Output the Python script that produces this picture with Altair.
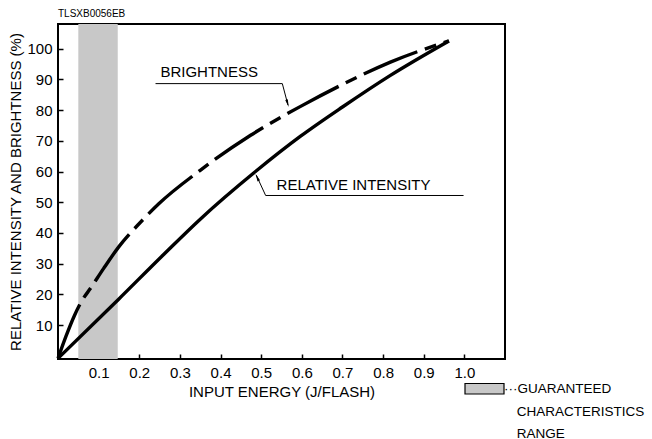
import altair as alt
import pandas as pd

# ---- data ----
x_intensity = [0, 0.148, 0.26, 0.35, 0.486, 0.597, 0.70, 0.818, 0.962]
y_intensity = [-0.8, 18.3, 33, 44.5, 60, 71.5, 81, 91.3, 102.5]

x_brightness = [0, 0.02, 0.04, 0.059, 0.08, 0.112, 0.149, 0.203, 0.248, 0.35, 0.474, 0.597, 0.695, 0.818, 0.962]
y_brightness = [-0.8, 6.5, 13, 18, 22, 28.4, 35.4, 43.5, 49.5, 60.4, 71.8, 81.2, 88.0, 95.6, 102.5]

band_start = [0.05]
band_end = [0.147]

x_ticks = [0.1, 0.2, 0.3, 0.4, 0.5, 0.6, 0.7, 0.8, 0.9, 1.0]
y_ticks = [10, 20, 30, 40, 50, 60, 70, 80, 90, 100]

FONT = "Liberation Sans"
GRAY = "#c8c8c8"

xs = alt.Scale(domain=[0, 1.1], nice=False, zero=False)
ys = alt.Scale(domain=[-1, 108], nice=False, zero=False)
x_axis = alt.Axis(values=x_ticks, format=".1f", title="INPUT ENERGY (J/FLASH)",
                  offset=-5, tickSize=5, labelPadding=6, titlePadding=4)
y_axis = alt.Axis(values=y_ticks, title="RELATIVE INTENSITY AND BRIGHTNESS (%)",
                  offset=-5, tickSize=5, labelPadding=6, titlePadding=3)


def X(field="x"):
    return alt.X(f"{field}:Q", scale=xs, axis=x_axis)


def Y(field="y"):
    return alt.Y(f"{field}:Q", scale=ys, axis=y_axis)


band_df = pd.DataFrame({"x": band_start, "x2": band_end, "y": [-1], "y2": [108]})
band = alt.Chart(band_df).mark_rect(color=GRAY).encode(
    x=X(), x2="x2:Q", y=Y(), y2="y2:Q")

int_df = pd.DataFrame({"x": x_intensity, "y": y_intensity})
bri_df = pd.DataFrame({"x": x_brightness, "y": y_brightness})

line_int = alt.Chart(int_df).mark_line(color="black", strokeWidth=3.4, interpolate="monotone",
                                       strokeCap="butt").encode(x=X(), y=Y())
line_bri = alt.Chart(bri_df).mark_line(color="black", strokeWidth=3.4, interpolate="monotone",
                                       strokeCap="butt", strokeDash=[58, 8, 12, 8]).encode(x=X(), y=Y())

# annotation leader lines (data coordinates)
lead_df = pd.DataFrame({
    "x": [0.240, 0.552, 0.511, 0.511],
    "y": [88.6, 88.6, 52.2, 52.2],
    "x2": [0.552, 0.566, 0.998, 0.488],
    "y2": [88.6, 81.6, 52.2, 58.8],
})
leaders = alt.Chart(lead_df).mark_rule(color="black", strokeWidth=1).encode(
    x=X(), y=Y(), x2="x2:Q", y2="y2:Q")

arrow_df = pd.DataFrame({"x": [0.565, 0.490], "y": [82.2, 58.1], "a": [164, 335]})
arrows = alt.Chart(arrow_df).mark_point(
    shape="M0,-1L0.35,1L-0.35,1Z", filled=True, color="black", size=60, opacity=1
).encode(x=X(), y=Y(), angle=alt.Angle("a:Q", scale=None))

label_df = pd.DataFrame({"x": [0.252, 0.538], "y": [92.4, 55.5],
                         "t": ["BRIGHTNESS", "RELATIVE INTENSITY"]})
labels = alt.Chart(label_df).mark_text(font=FONT, fontSize=15, align="left", baseline="middle",
                                       color="black").encode(x=X(), y=Y(), text="t:N")

# legend-like key below the plot (pixel positions relative to plot area)
one = pd.DataFrame({"k": [0]})
key_rect = alt.Chart(one).mark_rect(fill=GRAY, stroke="black", strokeWidth=1.2).encode(
    x=alt.value(407), x2=alt.value(446), y=alt.value(359.5), y2=alt.value(370))
key_text_df = pd.DataFrame({"t": ["···GUARANTEED", "CHARACTERISTICS", "RANGE"],
                            "px": [446, 458.7, 458.7], "py": [364.5, 387.5, 409.5]})
key_text = alt.Chart(key_text_df).mark_text(font=FONT, fontSize=13.5, align="left", baseline="middle",
                                            color="black").encode(
    x=alt.X("px:Q", scale=None, axis=None), y=alt.Y("py:Q", scale=None, axis=None), text="t:N")

code = alt.Chart(one).mark_text(font=FONT, fontSize=10, align="left", baseline="middle",
                                color="black").encode(
    x=alt.value(0), y=alt.value(-10), text=alt.value("TLSXB0056EB"))

chart = alt.layer(band, line_int, line_bri, leaders, arrows, labels, key_rect, key_text, code).properties(
    width=447, height=335,
    autosize=alt.AutoSizeParams(type="none"),
    padding={"left": 58, "top": 24, "right": 147, "bottom": 80},
).resolve_scale(x="shared", y="shared").configure_view(stroke="black", strokeWidth=2).configure_axis(
    grid=False, domain=False, labelFont=FONT, labelFontSize=15, labelColor="black",
    tickColor="black", tickWidth=1.5, titleFont=FONT, titleFontSize=15,
    titleFontWeight="normal", titleColor="black",
)

chart.save("out.html", embed_options={"renderer": "svg", "actions": False})
